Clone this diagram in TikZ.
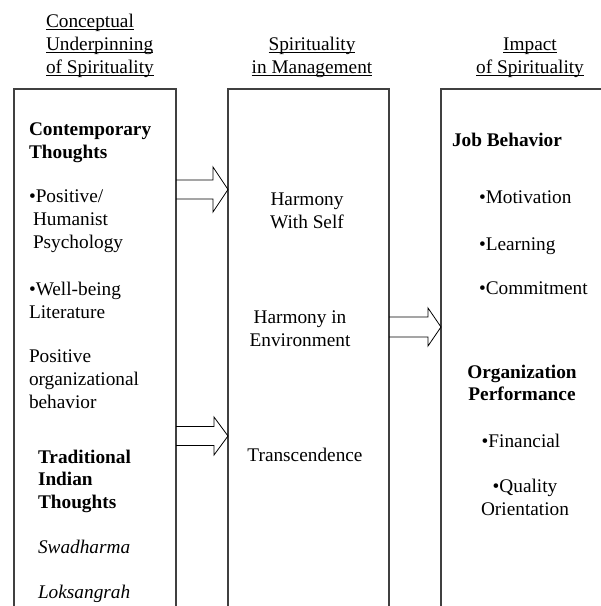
\documentclass[tikz,border=0pt]{standalone}
\usepackage{fontspec}
\setmainfont{Liberation Serif}
\usetikzlibrary{calc}

% underline sitting just under the baseline
\newcommand\undl[1]{\setbox0\hbox{#1}\rlap{\rule[-2.5pt]{\wd0}{0.8pt}}\box0}

\begin{document}
\begin{tikzpicture}[x=1pt, y=-1pt,
    every node/.style={font=\fontsize{19.3}{23}\selectfont, inner sep=0pt, outer sep=0pt},
    panel/.style={draw=black!75, line width=1.1pt, minimum width=#1, minimum height=531},
    txt/.style={anchor=base west, align=left},
    ctxt/.style={anchor=base, align=center},
    blockarrow/.style n args={3}{draw, line width=0.8pt, to path={
        ($(\tikztostart)+(0,#1)$) -- ($(\tikztotarget)+(-#3,#1)$) -- ($(\tikztotarget)+(-#3,#2)$)
        -- (\tikztotarget) -- ($(\tikztotarget)+(-#3,-#2)$) -- ($(\tikztotarget)+(-#3,-#1)$)
        -- ($(\tikztostart)+(0,-#1)$)}}]

    \useasboundingbox (0,0) rectangle (601,606);

        % the three columns, open at the bottom
        \node[panel=162] (concept) at (95,354.5) {};
        \node[panel=161] (mgmt) at (308.5,354.5) {};
        \node[panel=179] (impact) at (530.5,354.5) {};

        % headings (placed by their last line)
        \node[txt] (hconcept) at (46,73) {\undl{Conceptual}\\\undl{Underpinning}\\\undl{of Spirituality}};
        \node[ctxt] (hmgmt) at (312,73) {\undl{Spirituality}\\\undl{in Management}};
        \node[ctxt] (himpact) at (530,73) {\undl{Impact}\\\undl{of Spirituality}};

        % left column
        \node[txt, font=\fontsize{19.3}{23}\selectfont\bfseries] (contemp) at (29,158) {Contemporary\\Thoughts};
        \node[txt] (posit) at (29,248) {\textbullet Positive/\\\hspace{4pt}Humanist\\\hspace{4pt}Psychology};
        \node[txt] (wellb) at (29,318) {\textbullet Well-being\\Literature};
        \node[txt] (pob) at (29,408) {Positive\\organizational\\behavior};
        \node[txt, font=\fontsize{19.3}{22.5}\selectfont\bfseries] (tradit) at (38,508) {Traditional\\Indian\\Thoughts};
        \node[txt, font=\fontsize{19.3}{23}\selectfont\itshape] (swadh) at (38,553) {Swadharma};
        \node[txt, font=\fontsize{19.3}{23}\selectfont\itshape] (loks) at (38,598) {Loksangrah};

        % middle column
        \node[ctxt] (hself) at (307,228) {Harmony\\With Self};
        \node[ctxt] (henv) at (300,346) {Harmony in\\Environment};
        \node[ctxt] (transc) at (305,461) {Transcendence};

        % right column
        \node[txt, font=\fontsize{19.3}{23}\selectfont\bfseries] (jobb) at (452,146) {Job Behavior};
        \node[txt] (motiv) at (479,203) {\textbullet Motivation};
        \node[txt] (learn) at (479,250) {\textbullet Learning};
        \node[txt] (commit) at (479,294) {\textbullet Commitment};
        \node[ctxt, font=\fontsize{19.3}{22}\selectfont\bfseries] (orgp) at (522,400) {Organization\\Performance};
        \node[ctxt] (finan) at (521,447) {\textbullet Financial};
        \node[ctxt] (qual) at (525,515) {\textbullet Quality\\Orientation};

        % arrow ends on the column edges
        \coordinate (a1s) at (concept.east |- 0,189.5);
        \coordinate (a1e) at (mgmt.west |- 0,189.5);
        \coordinate (a2s) at (mgmt.east |- 0,327);
        \coordinate (a2e) at (impact.west |- 0,327);
        \coordinate (a3s) at (concept.east |- 0,436);
        \coordinate (a3e) at (mgmt.west |- 0,436);

        % block arrows between columns
        \draw[blockarrow={9.5}{22.5}{15}] (a1s) to (a1e);
        \draw[blockarrow={10}{19}{13}] (a2s) to (a2e);
        \draw[blockarrow={9.5}{19}{14}] (a3s) to (a3e);

    \end{tikzpicture}
\end{document}
